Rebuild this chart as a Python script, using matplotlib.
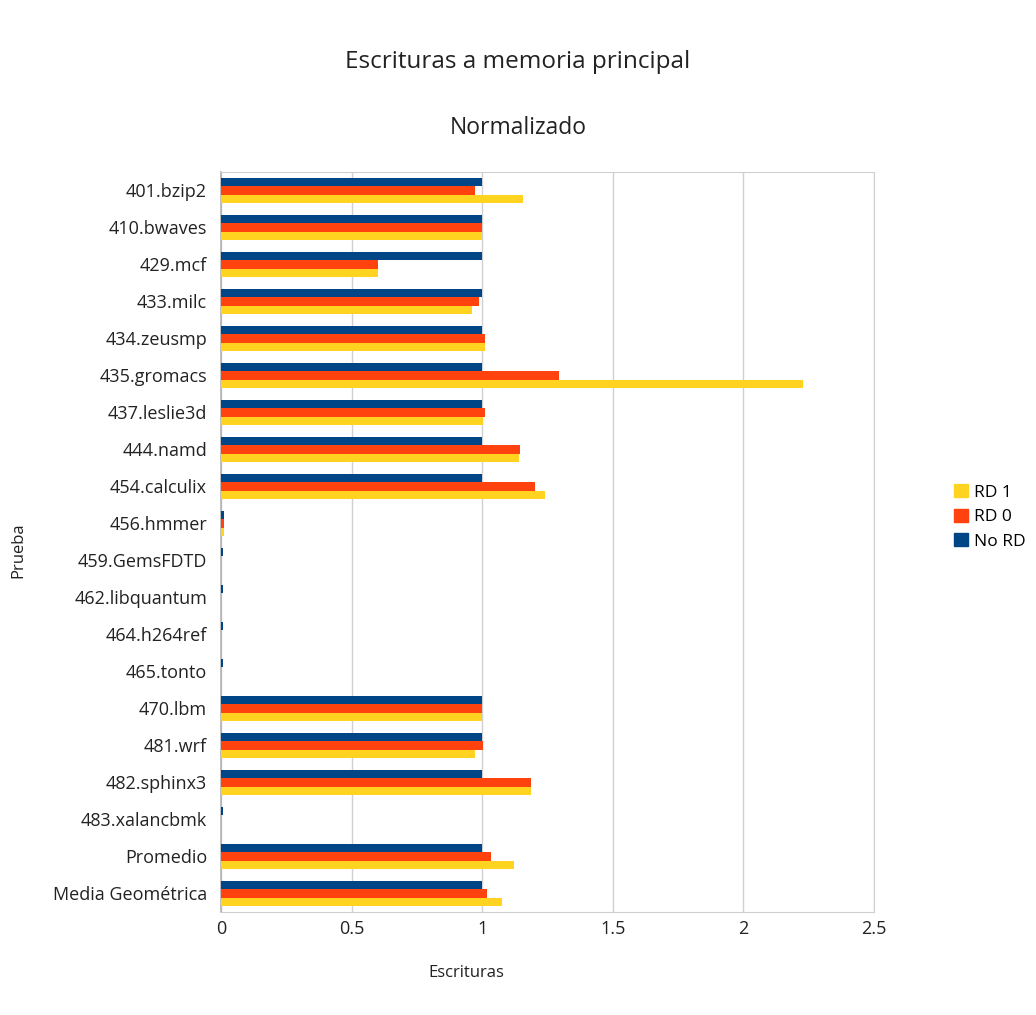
import matplotlib
matplotlib.use("Agg")
import matplotlib.pyplot as plt
import numpy as np
from matplotlib.patches import Patch

plt.rcParams['font.family'] = ['Open Sans', 'DejaVu Sans']

categories = [
    "401.bzip2", "410.bwaves", "429.mcf", "433.milc", "434.zeusmp",
    "435.gromacs", "437.leslie3d", "444.namd", "454.calculix", "456.hmmer",
    "459.GemsFDTD", "462.libquantum", "464.h264ref", "465.tonto", "470.lbm",
    "481.wrf", "482.sphinx3", "483.xalancbmk", "Promedio", "Media Geométrica",
]

no_rd = [1.0, 1.0, 1.0, 1.0, 1.0, 1.0, 1.0, 1.0, 1.0, 0.01,
         0.008, 0.008, 0.008, 0.008, 1.0, 1.0, 1.0, 0.008, 1.0, 1.0]
rd0 = [0.974, 1.0, 0.60, 0.986, 1.01, 1.293, 1.01, 1.143, 1.203, 0.01,
       0.0, 0.0, 0.0, 0.0, 1.0, 1.003, 1.188, 0.0, 1.034, 1.017]
rd1 = [1.156, 1.0, 0.60, 0.961, 1.01, 2.23, 1.003, 1.14, 1.241, 0.01,
       0.0, 0.0, 0.0, 0.0, 1.0, 0.974, 1.188, 0.0, 1.122, 1.077]

series_names = ["No RD", "RD 0", "RD 1"]
colors = {"No RD": "#004586", "RD 0": "#ff420e", "RD 1": "#ffd320"}
text_color = '#222222'

fig = plt.figure(figsize=(10.36, 10.15), dpi=100)
ax = fig.add_axes([221 / 1036, 1 - 912 / 1015, (874 - 221) / 1036, (912 - 172) / 1015])

y = np.arange(len(categories))
h = 0.233
for i, (name, vals) in enumerate(zip(series_names, [no_rd, rd0, rd1])):
    ax.barh(y + (i - 1) * h, vals, height=h, color=colors[name], zorder=3)

ax.set_xlim(0, 2.5)
ax.set_ylim(len(categories) - 0.5, -0.5)
ax.set_xticks([0, 0.5, 1, 1.5, 2, 2.5])
ax.set_xticklabels(["0", "0.5", "1", "1.5", "2", "2.5"])
ax.set_yticks(y)
ax.set_yticklabels(categories)
ax.tick_params(axis='both', length=0, labelsize=13, colors=text_color)
ax.tick_params(axis='y', pad=10)
ax.tick_params(axis='x', pad=6)
ax.grid(axis='x', color='#d0d0d0', linewidth=1, zorder=0)
for side in ['top', 'right', 'bottom']:
    ax.spines[side].set_color('#d0d0d0')
ax.spines['left'].set_color('#b3b3b3')
ax.spines['left'].set_linewidth(1.2)

fig.text(466 / 1036, 1 - 973 / 1015, "Escrituras", ha='center', va='center',
         fontsize=12, color=text_color)
fig.text(18 / 1036, 1 - 550 / 1015, "Prueba", ha='center', va='center',
         rotation=90, fontsize=12, color=text_color)

fig.text(0.5, 1 - 62 / 1015, "Escrituras a memoria principal", ha='center', va='center',
         fontsize=17.5, color=text_color)
fig.text(0.5, 1 - 128 / 1015, "Normalizado", ha='center', va='center',
         fontsize=16.5, color=text_color)

handles = [Patch(color=colors[n]) for n in ["RD 1", "RD 0", "No RD"]]
fig.legend(handles, ["RD 1", "RD 0", "No RD"], loc='center left',
           bbox_to_anchor=(938 / 1036, 1 - 517 / 1015), frameon=False,
           fontsize=12.5, handlelength=0.8, handleheight=0.8, handletextpad=0.4,
           labelspacing=0.45)

fig.savefig("out.png", dpi=100)
